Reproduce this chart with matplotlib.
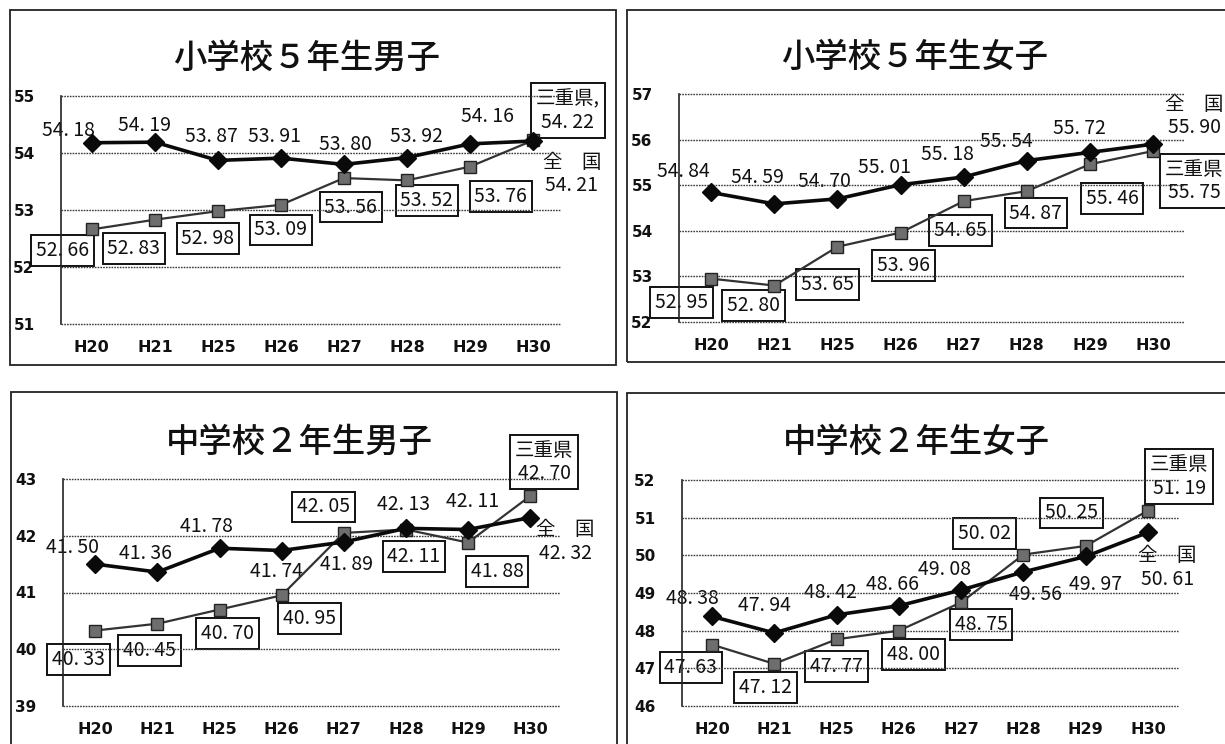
import matplotlib
matplotlib.use('Agg')
import matplotlib.pyplot as plt
from matplotlib.patches import Rectangle

plt.rcParams['font.family'] = ['Noto Sans CJK JP', 'DejaVu Sans']

# ---------------- data ----------------
years = ['H20', 'H21', 'H25', 'H26', 'H27', 'H28', 'H29', 'H30']

titles = ['小学校５年生男子', '小学校５年生女子', '中学校２年生男子', '中学校２年生女子']

e5_boys_national = [54.18, 54.19, 53.87, 53.91, 53.80, 53.92, 54.16, 54.21]
e5_boys_mie = [52.66, 52.83, 52.98, 53.09, 53.56, 53.52, 53.76, 54.22]

e5_girls_national = [54.84, 54.59, 54.70, 55.01, 55.18, 55.54, 55.72, 55.90]
e5_girls_mie = [52.95, 52.80, 53.65, 53.96, 54.65, 54.87, 55.46, 55.75]

j2_boys_national = [41.50, 41.36, 41.78, 41.74, 41.89, 42.13, 42.11, 42.32]
j2_boys_mie = [40.33, 40.45, 40.70, 40.95, 42.05, 42.11, 41.88, 42.70]

j2_girls_national = [48.38, 47.94, 48.42, 48.66, 49.08, 49.56, 49.97, 50.61]
j2_girls_mie = [47.63, 47.12, 47.77, 48.00, 48.75, 50.02, 50.25, 51.19]

national_name = '全　国'
mie_names = ['三重県,', '三重県', '三重県', '三重県']

y_ranges = [(51, 55), (52, 57), (39, 43), (46, 52)]

# ---------------- layout (pixels) ----------------
W, H = 1225, 744
axes_px = [(61, 96, 560, 324), (679, 94, 1184, 322),
           (63, 479, 560, 706), (682, 480, 1178, 706)]
frames_px = [(10, 10, 616, 365), (627, 10, 1240, 362),
             (11, 392, 617, 760), (627, 393, 1240, 760)]
title_px = [(307, 58), (915, 57), (299, 442), (916, 442)]
xlims = [(-0.49, 7.43), (-0.51, 7.49), (-0.52, 7.48), (-0.48, 7.48)]

# label offsets in pixels (dx, dy with dy positive downward)
nat_offsets = [
    [(-23, -12), (-10, -17), (-7, -24), (-6, -22), (2, -20), (10, -21), (18, -27), (39, 33)],
    [(-28, -21), (-17, -26), (-13, -17), (-16, -17), (-16, -22), (-20, -19), (-11, -24), (41, -28)],
    [(-23, -17), (-12, -19), (-13, -22), (-5, 21), (3, 23), (-2, -24), (5, -28), (35, 24)],
    [(-20, -18), (-10, -27), (-6, -22), (-6, -21), (-17, -20), (12, 23), (10, 28), (19, 35)],
]
mie_offsets = [
    [(-29, 21), (-21, 29), (-10, 27), (0, 25), (7, 29), (20, 20), (31, 30), (35, -30)],
    [(-30, 24), (-21, 20), (-10, 38), (3, 33), (-3, 29), (9, 22), (22, 34), (41, 30)],
    [(-17, 29), (-8, 27), (8, 24), (28, 23), (-20, -26), (8, 27), (29, 29), (14, -34)],
    [(-21, 23), (-9, 24), (0, 27), (15, 24), (20, 22), (-39, -21), (-14, -33), (31, -34)],
]

national_series = [e5_boys_national, e5_girls_national, j2_boys_national, j2_girls_national]
mie_series = [e5_boys_mie, e5_girls_mie, j2_boys_mie, j2_girls_mie]


def fmt(v):
    return f"{v:.2f}".replace('.', '. ')


fig = plt.figure(figsize=(W / 100, H / 100), dpi=100)
fig.patch.set_facecolor('white')

for i in range(4):
    # panel frame
    l, t, r, b = frames_px[i]
    fig.patches.append(Rectangle((l / W, 1 - b / H), (r - l) / W, (b - t) / H,
                                 transform=fig.transFigure, fill=False,
                                 edgecolor='#222222', lw=1.3))
    # title
    tx, ty = title_px[i]
    fig.text(tx / W, 1 - ty / H, titles[i], ha='center', va='center',
             fontsize=24, color='#111111', fontweight='medium')

    l, t, r, b = axes_px[i]
    ax = fig.add_axes([l / W, 1 - b / H, (r - l) / W, (b - t) / H])
    ax.set_facecolor('none')
    x = list(range(len(years)))
    nat = national_series[i]
    mie = mie_series[i]

    ax.plot(x, mie, color='#333333', lw=1.6, marker='s', ms=8.5,
            mfc='#6e6e6e', mec='#222222', mew=1.0, zorder=4)
    ax.plot(x, nat, color='#0a0a0a', lw=2.6, marker='D', ms=9,
            mfc='#0a0a0a', mec='#0a0a0a', zorder=5)

    ax.set_xlim(*xlims[i])
    ax.set_ylim(*y_ranges[i])
    ax.set_yticks(range(y_ranges[i][0], y_ranges[i][1] + 1))
    ax.set_xticks(x)
    ax.set_xticklabels(years)

    for s in ['top', 'right', 'bottom']:
        ax.spines[s].set_visible(False)
    ax.spines['left'].set_color('#222222')
    ax.spines['left'].set_linewidth(1.2)

    ax.yaxis.grid(True, color='#3a3a3a', linestyle=(0, (1.2, 0.8)), lw=1.0)
    ax.set_axisbelow(False)
    for gl in ax.get_ygridlines():
        gl.set_clip_on(False)

    ax.tick_params(axis='y', length=0, pad=19)
    ax.tick_params(axis='x', length=0, pad=11.5)
    for lab in ax.get_yticklabels():
        lab.set_fontfamily('DejaVu Sans')
        lab.set_fontweight('bold')
        lab.set_fontsize(11)
        lab.set_color('#111111')
    for lab in ax.get_xticklabels():
        lab.set_fontfamily('DejaVu Sans')
        lab.set_fontweight('bold')
        lab.set_fontsize(11.5)
        lab.set_color('#111111')

    n = len(years)
    for k in range(n):
        # national labels (no box)
        dx, dy = nat_offsets[i][k]
        txt = fmt(nat[k])
        if k == n - 1:
            txt = national_name + '\n' + txt
        ax.annotate(txt, (x[k], nat[k]), xytext=(dx, -dy),
                    textcoords='offset pixels', ha='center', va='center',
                    multialignment='center', fontsize=14, color='#111111',
                    linespacing=1.15, annotation_clip=False, zorder=2)
        # prefecture labels (boxed)
        dx, dy = mie_offsets[i][k]
        txt = fmt(mie[k])
        if k == n - 1:
            txt = mie_names[i] + '\n' + txt
        ax.annotate(txt, (x[k], mie[k]), xytext=(dx, -dy),
                    textcoords='offset pixels', ha='center', va='center',
                    multialignment='center', fontsize=14, color='#111111',
                    linespacing=1.15, annotation_clip=False, zorder=2,
                    bbox=dict(boxstyle='square,pad=0.25', fc='white',
                              ec='#111111', lw=1.4))

fig.savefig('out.png', dpi=100, facecolor='white')
